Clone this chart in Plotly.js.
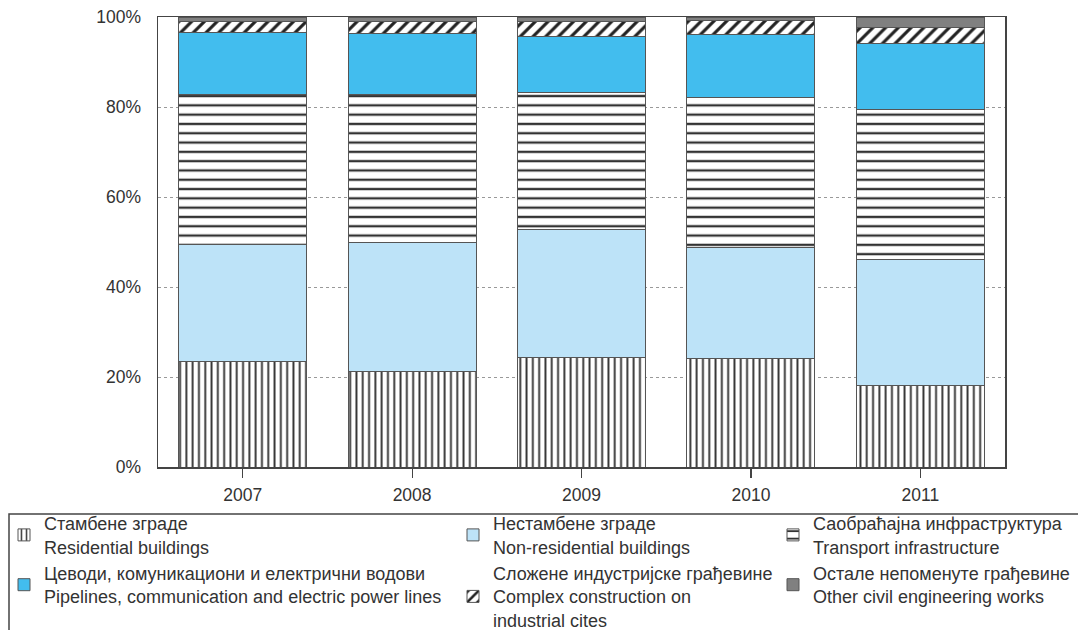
<!DOCTYPE html>
<html>
<head>
<meta charset="utf-8">
<script src="https://cdn.plot.ly/plotly-3.0.1.min.js"></script>
<style>html,body{margin:0;padding:0;background:#fff}#chart{width:1078px;height:630px}</style>
</head>
<body>
<div id="chart"></div>
<script>
const years = ['2007', '2008', '2009', '2010', '2011'];
const residential = [23.5, 21.2, 24.3, 24.1, 18.1];
const nonResidential = [25.9, 28.6, 28.5, 24.7, 28.0];
const transport = [33.3, 32.9, 30.4, 33.3, 33.4];
const pipelines = [13.8, 13.7, 12.4, 14.0, 14.6];
const complexInd = [2.5, 2.5, 3.4, 3.2, 3.5];
const otherWorks = [1.0, 1.1, 1.0, 0.7, 2.4];
const seriesNames = [
  'Стамбене зграде<br>Residential buildings',
  'Нестамбене зграде<br>Non-residential buildings',
  'Саобраћајна инфраструктура<br>Transport infrastructure',
  'Цеводи, комуникациони и електрични водови<br>Pipelines, communication and electric power lines',
  'Сложене индустријске грађевине<br>Complex construction on<br>industrial cites',
  'Остале непоменуте грађевине<br>Other civil engineering works'
];
const yTicks = [0, 20, 40, 60, 80, 100];
const yTickText = yTicks.map(v => v + '%');

const lineStyle = {color: '#555', width: 1};
function bar(y, name, marker, legend) {
  return {type: 'bar', x: years, y: y, name: name, legend: legend,
    marker: Object.assign({line: lineStyle}, marker), hoverinfo: 'y+name'};
}
const data = [
  bar(residential, seriesNames[0], {color: '#ffffff', pattern: {shape: '|', fgcolor: '#333', bgcolor: '#ffffff', size: 6.3, solidity: 0.3}}, 'legend'),
  bar(nonResidential, seriesNames[1], {color: '#bde3f8'}, 'legend2'),
  bar(transport, seriesNames[2], {color: '#ffffff', pattern: {shape: '-', fgcolor: '#333', bgcolor: '#ffffff', size: 9.3, solidity: 0.25}}, 'legend3'),
  bar(pipelines, seriesNames[3], {color: '#42bdee'}, 'legend'),
  bar(complexInd, seriesNames[4], {color: '#ffffff', pattern: {shape: '/', fgcolor: '#222', bgcolor: '#ffffff', size: 9, solidity: 0.35}}, 'legend2'),
  bar(otherWorks, seriesNames[5], {color: '#808080'}, 'legend3')
];

const legFont = {family: 'Liberation Sans, Arial, sans-serif', size: 18, color: '#333'};
function leg(xpx) {
  return {x: (xpx - 158) / 847, xanchor: 'left', y: (467 - 505) / 450, yanchor: 'top',
    orientation: 'v', traceorder: 'normal', font: legFont, bgcolor: 'rgba(0,0,0,0)',
    borderwidth: 0, valign: 'middle', tracegroupgap: 1, itemwidth: 30};
}

const layout = {
  width: 1078, height: 630,
  margin: {l: 158, r: 73, t: 17, b: 163, autoexpand: false},
  paper_bgcolor: '#ffffff', plot_bgcolor: '#ffffff',
  barmode: 'stack', bargap: 0.245,
  font: {family: 'Liberation Sans, Arial, sans-serif', size: 17, color: '#333'},
  showlegend: true,
  xaxis: {type: 'category', showline: true, mirror: true, linecolor: '#444', linewidth: 1.5,
    ticks: 'outside', ticklen: 9, tickcolor: '#444', tickwidth: 1.2, showgrid: false,
    tickfont: {size: 17.5, color: '#333'}, ticklabelstandoff: 2, automargin: false},
  yaxis: {range: [0, 100], tickmode: 'array', tickvals: yTicks, ticktext: yTickText, showline: true, mirror: true,
    linecolor: '#444', linewidth: 1.5, ticks: '', showgrid: true, gridcolor: '#999',
    griddash: 'dot', gridwidth: 1, zeroline: false, tickfont: {size: 17.5, color: '#333'},
    ticklabelstandoff: 12, automargin: false},
  legend: leg(4),
  legend2: leg(453),
  legend3: leg(773),
  shapes: [{type: 'rect', xref: 'paper', yref: 'paper',
    x0: (9 - 158) / 847, x1: (1090 - 158) / 847, y0: (467 - 640) / 450, y1: (467 - 514) / 450,
    line: {color: '#444', width: 1.5}, fillcolor: 'rgba(0,0,0,0)'}]
};

Plotly.newPlot('chart', data, layout, {displayModeBar: false, staticPlot: true});
</script>
</body>
</html>
